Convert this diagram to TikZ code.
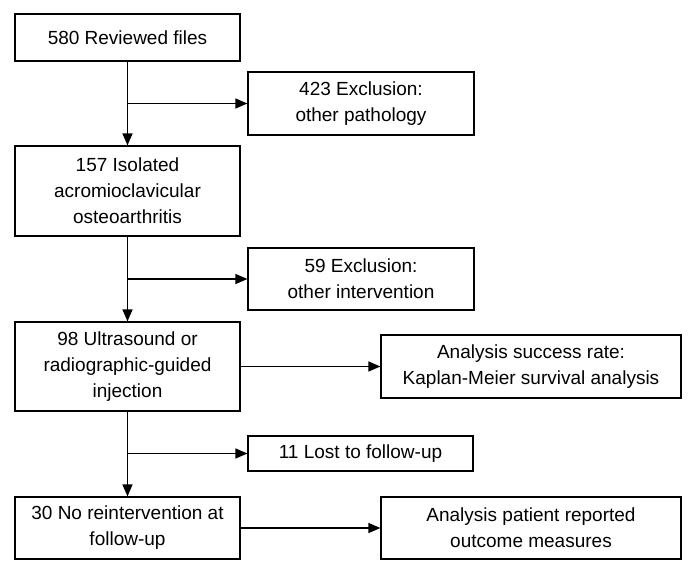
\documentclass[tikz,border=0pt]{standalone}
\usepackage{fontspec}
\setmainfont{Liberation Sans}
\usetikzlibrary{arrows.meta}
\begin{document}
\begin{tikzpicture}[x=1pt,y=-1pt,
  box/.style={draw, line width=1.2pt, inner sep=0pt, align=center,
    font=\fontsize{19}{26}\selectfont},
  arr/.style={line width=1.2pt, -{Triangle[length=12pt,width=10pt]}},
  ln/.style={line width=1.2pt}]
\useasboundingbox[fill=white] (0,0) rectangle (698,581);
\node[box, minimum width=225pt, minimum height=47pt] (b1) at (127.5,37.5) {580 Reviewed files};
\node[box, minimum width=226pt, minimum height=63pt] (e1) at (361,103.5) {423 Exclusion:\\other pathology};
\node[box, minimum width=225pt, minimum height=90pt] (b2) at (127.5,191) {157 Isolated\\acromioclavicular\\osteoarthritis};
\node[box, minimum width=226pt, minimum height=62pt] (e2) at (361,279) {59 Exclusion:\\other intervention};
\node[box, minimum width=225pt, minimum height=89pt] (b3) at (127.5,366.5) {98 Ultrasound or\\radiographic-guided\\injection};
\node[box, minimum width=300pt, minimum height=63pt] (a1) at (531,366.5) {Analysis success rate:\\Kaplan-Meier survival analysis};
\node[box, minimum width=225pt, minimum height=35pt] (e3) at (360.5,453.5) {11 Lost to follow-up};
\node[box, minimum width=225pt, minimum height=62pt] (b4) at (127.5,528) {30 No reintervention at\\follow-up};
\node[box, minimum width=300pt, minimum height=62pt] (a2) at (531,528) {Analysis patient reported\\outcome measures};
\coordinate (j1) at (b1.south |- e1.west);
\coordinate (j2) at (b2.south |- e2.west);
\coordinate (j3) at (b3.south |- e3.west);
\draw[arr] (b1.south) -- (b2.north);
\draw[arr] (j1) -- (e1.west);
\draw[arr] (b2.south) -- (b3.north);
\draw[arr] (j2) -- (e2.west);
\draw[arr] (b3.south) -- (b4.north);
\draw[arr] (j3) -- (e3.west);
\draw[arr] (b3.east) -- (a1.west);
\draw[arr] (b4.east) -- (a2.west);
\end{tikzpicture}
\end{document}
